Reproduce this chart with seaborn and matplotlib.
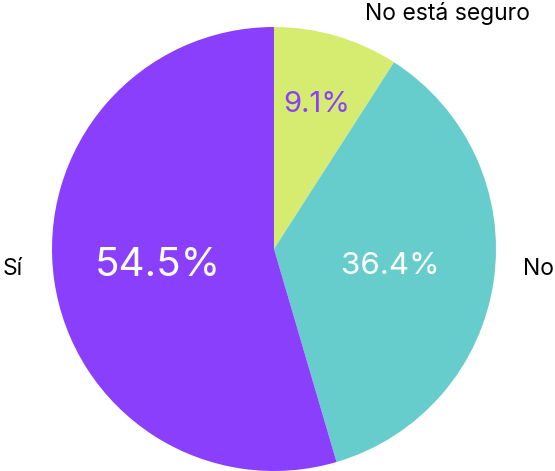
import matplotlib
matplotlib.use("Agg")
import matplotlib.pyplot as plt
import seaborn as sns

# Data
labels = ['No está seguro', 'No', 'Sí']
counts = [1, 4, 6]
colors = ['#d5ec70', '#67cdcc', '#8a3ffc']
pct_colors = ['#8a3ffc', 'white', 'white']
pct_sizes = [21, 22.5, 29]

sns.set_theme(style="white")
plt.rcParams['font.family'] = ['Inter', 'DejaVu Sans']

fig = plt.figure(figsize=(5.55, 4.71), dpi=100)
ax = fig.add_axes([52 / 555, 0.0, 444 / 555, 444 / 471])

wedges, texts, autotexts = ax.pie(
    counts,
    labels=labels,
    colors=sns.color_palette(colors),
    startangle=90,
    counterclock=False,
    autopct='%1.1f%%',
    pctdistance=0.53,
    labeldistance=1.1,
    wedgeprops={'linewidth': 0},
    textprops={'fontsize': 16.5, 'color': 'black'},
)

for t, c, s in zip(autotexts, pct_colors, pct_sizes):
    t.set_color(c)
    t.set_fontsize(s)
    t.set_ha('center')
    t.set_va('center')

# small slice: percent label sits further out
x, y = autotexts[0].get_position()
autotexts[0].set_position((x * 1.28, y * 1.28))

# category labels
texts[0].set_position((0.41, 1.06))
texts[0].set_va('center')
texts[0].set_ha('left')
texts[1].set_position((1.12, -0.09))
texts[1].set_va('center')
texts[1].set_ha('left')
texts[2].set_position((-1.13, -0.09))
texts[2].set_va('center')
texts[2].set_ha('right')

ax.set_xlim(-1, 1)
ax.set_ylim(-1, 1)
ax.set_aspect('equal')
ax.axis('off')

fig.savefig('out.png', dpi=100)
